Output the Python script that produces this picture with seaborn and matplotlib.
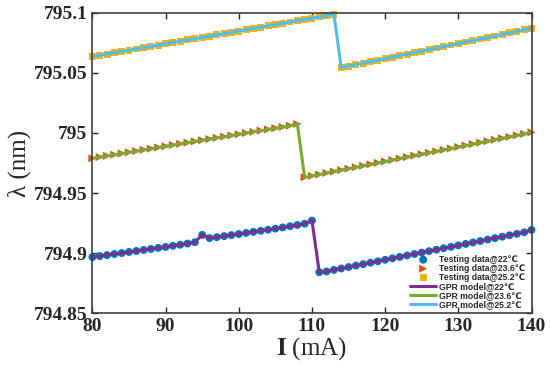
import pandas as pd
import matplotlib
matplotlib.use("Agg")
import matplotlib.pyplot as plt
import seaborn as sns

# 데이터
current = list(range(80, 141))

wl_22 = [
    794.8968, 794.8977, 794.8985, 794.8994, 794.9002, 794.9011, 794.9019, 794.9028,
    794.9036, 794.9045, 794.9053, 794.9062, 794.9071, 794.9081, 794.9092, 794.9153,
    794.9126, 794.9134, 794.9143, 794.9151, 794.9160, 794.9169, 794.9178, 794.9187,
    794.9196, 794.9205, 794.9215, 794.9225, 794.9235, 794.9246, 794.9272,
    794.8843, 794.8849, 794.8862, 794.8874, 794.8886, 794.8898, 794.8910, 794.8922,
    794.8934, 794.8946, 794.8958, 794.8970, 794.8982, 794.8994, 794.9006, 794.9018,
    794.9030, 794.9042, 794.9054, 794.9066, 794.9078, 794.9090, 794.9102, 794.9114,
    794.9126, 794.9138, 794.9150, 794.9162, 794.9174, 794.9194,
]

wl_236 = [
    794.9789, 794.9799, 794.9809, 794.9819, 794.9829, 794.9839, 794.9849, 794.9859,
    794.9869, 794.9879, 794.9889, 794.9899, 794.9909, 794.9919, 794.9929, 794.9939,
    794.9949, 794.9959, 794.9969, 794.9979, 794.9989, 794.9999, 795.0009, 795.0019,
    795.0029, 795.0039, 795.0049, 795.0060, 795.0074,
    794.9631, 794.9643, 794.9655, 794.9667, 794.9679, 794.9691, 794.9703, 794.9715,
    794.9727, 794.9739, 794.9751, 794.9763, 794.9775, 794.9787, 794.9799, 794.9811,
    794.9823, 794.9835, 794.9847, 794.9859, 794.9871, 794.9883, 794.9895, 794.9907,
    794.9919, 794.9931, 794.9943, 794.9955, 794.9967, 794.9979, 794.9991, 795.0005,
]

wl_252 = [
    795.0633, 795.0644, 795.0654, 795.0665, 795.0676, 795.0686, 795.0697, 795.0708,
    795.0718, 795.0729, 795.0740, 795.0750, 795.0761, 795.0772, 795.0782, 795.0793,
    795.0804, 795.0814, 795.0825, 795.0836, 795.0846, 795.0857, 795.0868, 795.0878,
    795.0889, 795.0900, 795.0910, 795.0921, 795.0932, 795.0942, 795.0953, 795.0963,
    795.0974, 795.0985,
    795.0542, 795.0555, 795.0567, 795.0580, 795.0592, 795.0605, 795.0617, 795.0630,
    795.0642, 795.0655, 795.0667, 795.0680, 795.0692, 795.0705, 795.0717, 795.0730,
    795.0742, 795.0755, 795.0767, 795.0780, 795.0792, 795.0805, 795.0817, 795.0830,
    795.0842, 795.0857, 795.0869,
]

x_ticks = [80, 90, 100, 110, 120, 130, 140]
y_ticks = [794.85, 794.9, 794.95, 795, 795.05, 795.1]
y_tick_labels = ["794.85", "794.9", "794.95", "795", "795.05", "795.1"]

df = pd.DataFrame({"I": current, "t22": wl_22, "t236": wl_236, "t252": wl_252})

sns.set_style("ticks")
plt.rcParams["font.family"] = ["Liberation Serif", "DejaVu Serif"]
plt.rcParams["mathtext.fontset"] = "custom"
plt.rcParams["mathtext.bf"] = "Liberation Serif:bold"
plt.rcParams["mathtext.rm"] = "Liberation Serif"

fig = plt.figure(figsize=(5.5, 3.71), dpi=100)
ax = fig.add_axes([0.168, 0.155, 0.7984, 0.8113])

# 측정 데이터 (마커)
sns.scatterplot(data=df, x="I", y="t22", marker="o", s=32, color="#0072BD",
                edgecolor="none", label="Testing data@22\u2103", ax=ax, clip_on=False)
sns.scatterplot(data=df, x="I", y="t236", marker=">", s=34, color="#D95319",
                edgecolor="none", label="Testing data@23.6\u2103", ax=ax, clip_on=False)
sns.scatterplot(data=df, x="I", y="t252", marker="s", s=25, color="#EDB120",
                edgecolor="none", label="Testing data@25.2\u2103", ax=ax, clip_on=False)

# GPR 모델 (선)
sns.lineplot(data=df, x="I", y="t22", color="#7E2F8E", linewidth=2.2,
             sort=False, estimator=None, label="GPR model@22\u2103", ax=ax)
sns.lineplot(data=df, x="I", y="t236", color="#77AC30", linewidth=2.2,
             sort=False, estimator=None, label="GPR model@23.6\u2103", ax=ax)
sns.lineplot(data=df, x="I", y="t252", color="#4DBEEE", linewidth=2.2,
             sort=False, estimator=None, label="GPR model@25.2\u2103", ax=ax)

ax.set_xlim(80, 140)
ax.set_ylim(794.85, 795.1)
ax.set_xticks(x_ticks)
ax.set_yticks(y_ticks)
ax.set_yticklabels(y_tick_labels)

text_color = "#262626"
ax.tick_params(direction="in", length=4, width=1, top=True, right=True,
               labelsize=14, colors=text_color)
for lab in ax.get_xticklabels() + ax.get_yticklabels():
    lab.set_fontweight("bold")
for side in ["left", "right", "top", "bottom"]:
    ax.spines[side].set_linewidth(1.2)
    ax.spines[side].set_color("#404040")

ax.set_xlabel(r"$\mathbf{I}$ (mA)", fontsize=18, color=text_color, labelpad=0)
ax.set_ylabel("\u03bb (nm)", fontsize=18, color=text_color, labelpad=2)

leg = ax.legend(loc="lower right", bbox_to_anchor=(0.985, 0.015), frameon=False,
                prop={"family": ["Liberation Sans", "DejaVu Sans"], "weight": "bold", "size": 6.2},
                handlelength=3.0, handletextpad=0.3, labelspacing=0.0,
                borderpad=0, borderaxespad=0, markerscale=1.0)
for t in leg.get_texts():
    t.set_color(text_color)

fig.savefig("out.png", dpi=100)
